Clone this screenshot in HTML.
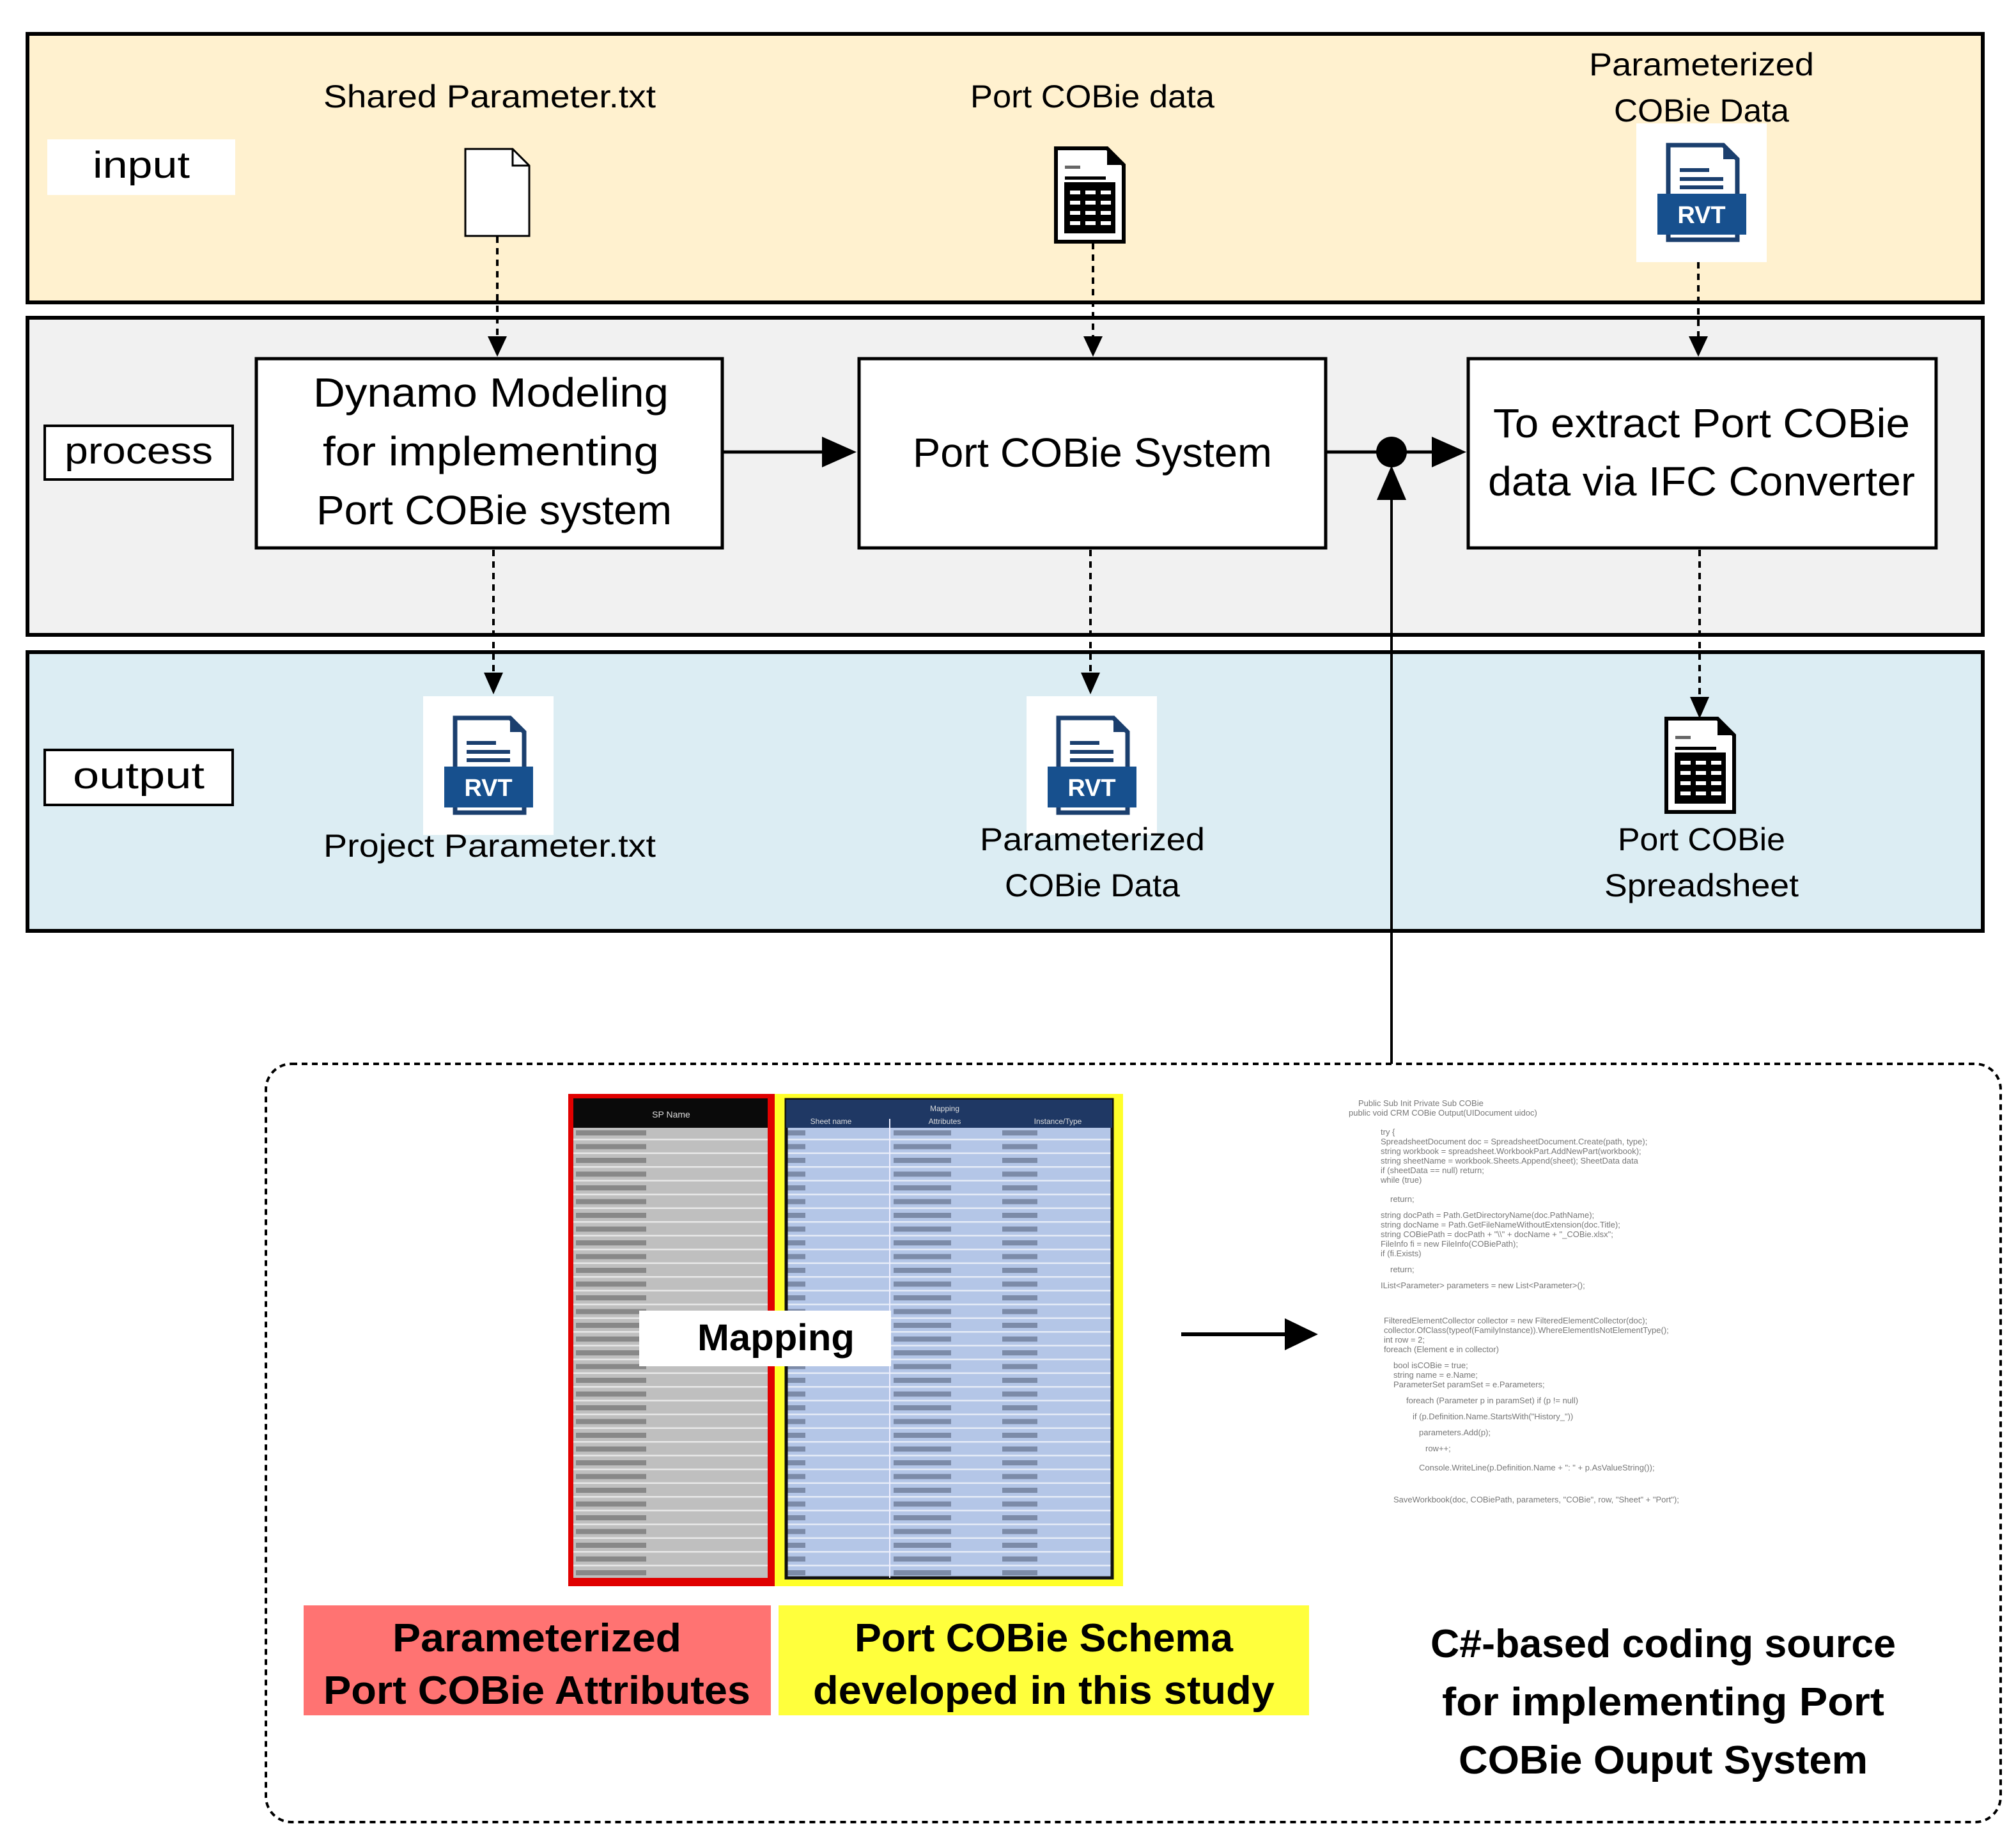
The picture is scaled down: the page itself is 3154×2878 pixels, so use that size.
<!DOCTYPE html>
<html><head><meta charset="utf-8"><style>
html,body{margin:0;padding:0;background:#fff}
svg{display:block}
text{font-family:"Liberation Sans",sans-serif}
</style></head><body>
<svg width="3154" height="2878" viewBox="0 0 3154 2878" xmlns="http://www.w3.org/2000/svg">
<defs>
<marker id="ah" viewBox="0 0 10 10" refX="10" refY="5" markerWidth="10" markerHeight="10" markerUnits="userSpaceOnUse" orient="auto"><path d="M0,0L10,5L0,10z"/></marker>
<pattern id="gray" x="897" y="1762" width="300" height="21.5" patternUnits="userSpaceOnUse">
<rect width="300" height="21.5" fill="#bfbfbf"/><rect y="19" width="300" height="2.5" fill="#e8e8e8"/><rect x="4" y="6" width="110" height="8" fill="#5a5a5a" opacity=".55"/></pattern>
<pattern id="blue" x="1228" y="1762" width="520" height="21.5" patternUnits="userSpaceOnUse">
<rect width="520" height="21.5" fill="#b4c6e7"/><rect y="19" width="520" height="2.5" fill="#e6ecf7"/><rect x="4" y="6" width="28" height="8" fill="#44506a" opacity=".5"/><rect x="170" y="6" width="90" height="8" fill="#44506a" opacity=".5"/><rect x="340" y="6" width="55" height="8" fill="#44506a" opacity=".5"/></pattern>
<g id="rvt">
<rect x="0" y="0" width="204" height="217" fill="#fff"/>
<path d="M50,34h86l22,22v126h-108z" fill="#fff" stroke="#1b3f6e" stroke-width="7"/>
<path d="M136,34v22h22z" fill="#1b3f6e"/>
<rect x="68" y="70" width="46" height="6" fill="#1b3f6e"/><rect x="68" y="84" width="68" height="6" fill="#1b3f6e"/><rect x="68" y="97" width="68" height="6" fill="#1b3f6e"/>
<rect x="33" y="110" width="139" height="64" fill="#17508e"/>
<text x="102" y="156" font-size="38" font-weight="bold" fill="#fff" text-anchor="middle">RVT</text>
</g>
<g id="xls">
<path d="M0,0h80l26,26v120h-106z" fill="#fff" stroke="#000" stroke-width="6"/>
<path d="M80,0v26h26z" fill="#000"/>
<rect x="14" y="27" width="24" height="5" fill="#666"/><rect x="14" y="44" width="64" height="5" fill="#000"/>
<rect x="13" y="53" width="80" height="80" fill="#000"/>
<g fill="#fff"><rect x="22" y="66" width="16" height="6"/><rect x="46" y="66" width="16" height="6"/><rect x="70" y="66" width="16" height="6"/>
<rect x="22" y="82" width="16" height="6"/><rect x="46" y="82" width="16" height="6"/><rect x="70" y="82" width="16" height="6"/>
<rect x="22" y="98" width="16" height="6"/><rect x="46" y="98" width="16" height="6"/><rect x="70" y="98" width="16" height="6"/>
<rect x="22" y="114" width="16" height="6"/><rect x="46" y="114" width="16" height="6"/><rect x="70" y="114" width="16" height="6"/></g>
</g>
</defs>

<!-- bands -->
<rect x="43" y="53" width="3059" height="420" fill="#fff1cf" stroke="#000" stroke-width="6"/>
<rect x="43" y="497" width="3059" height="496" fill="#f1f1f1" stroke="#000" stroke-width="6"/>
<rect x="43" y="1020" width="3059" height="436" fill="#dcedf3" stroke="#000" stroke-width="6"/>

<!-- lane labels -->
<rect x="74" y="218" width="294" height="87" fill="#fff"/>
<text x="221" y="278" font-size="58" text-anchor="middle" textLength="152" lengthAdjust="spacingAndGlyphs">input</text>
<rect x="70" y="666" width="294" height="84" fill="#fff" stroke="#000" stroke-width="4"/>
<text x="217" y="725" font-size="58" text-anchor="middle" textLength="232" lengthAdjust="spacingAndGlyphs">process</text>
<rect x="70" y="1173" width="294" height="86" fill="#fff" stroke="#000" stroke-width="4"/>
<text x="217" y="1233" font-size="58" text-anchor="middle" textLength="206" lengthAdjust="spacingAndGlyphs">output</text>

<!-- input labels -->
<text x="766" y="168" font-size="50" text-anchor="middle" textLength="520" lengthAdjust="spacingAndGlyphs">Shared Parameter.txt</text>
<text x="1709" y="168" font-size="50" text-anchor="middle" textLength="382" lengthAdjust="spacingAndGlyphs">Port COBie data</text>
<text x="2662" y="118" font-size="50" text-anchor="middle" textLength="352" lengthAdjust="spacingAndGlyphs">Parameterized</text>
<text x="2662" y="190" font-size="50" text-anchor="middle" textLength="274" lengthAdjust="spacingAndGlyphs">COBie Data</text>

<!-- input icons -->
<path d="M728,233h74l26,26v110h-100z" fill="#fff" stroke="#000" stroke-width="3"/>
<path d="M802,233v26h26" fill="none" stroke="#000" stroke-width="3"/>
<use href="#xls" x="1652" y="232"/>
<use href="#rvt" x="2560" y="193"/>

<!-- process boxes -->
<rect x="401" y="561" width="729" height="296" fill="#fff" stroke="#000" stroke-width="5"/>
<text x="768" y="636" font-size="64" text-anchor="middle" textLength="556" lengthAdjust="spacingAndGlyphs">Dynamo Modeling</text>
<text x="768" y="728" font-size="64" text-anchor="middle" textLength="526" lengthAdjust="spacingAndGlyphs">for implementing</text>
<text x="773" y="820" font-size="64" text-anchor="middle" textLength="556" lengthAdjust="spacingAndGlyphs">Port COBie system</text>
<rect x="1344" y="561" width="730" height="296" fill="#fff" stroke="#000" stroke-width="5"/>
<text x="1709" y="730" font-size="64" text-anchor="middle" textLength="562" lengthAdjust="spacingAndGlyphs">Port COBie System</text>
<rect x="2297" y="561" width="732" height="296" fill="#fff" stroke="#000" stroke-width="5"/>
<text x="2662" y="684" font-size="64" text-anchor="middle" textLength="652" lengthAdjust="spacingAndGlyphs">To extract Port COBie</text>
<text x="2662" y="775" font-size="64" text-anchor="middle" textLength="668" lengthAdjust="spacingAndGlyphs">data via IFC Converter</text>

<!-- solid connectors -->
<line x1="1130" y1="707" x2="1290" y2="707" stroke="#000" stroke-width="5"/>
<path d="M1286,683L1340,707L1286,731z"/>
<line x1="2074" y1="707" x2="2240" y2="707" stroke="#000" stroke-width="5"/>
<circle cx="2177" cy="707" r="24"/>
<path d="M2240,683L2294,707L2240,731z"/>
<line x1="2177" y1="760" x2="2177" y2="1664" stroke="#000" stroke-width="4"/>
<path d="M2154,782L2177,728L2200,782z"/>

<!-- dashed connectors -->
<g stroke="#000" stroke-width="4" stroke-dasharray="10,8" fill="none">
<line x1="778" y1="370" x2="778" y2="530"/>
<line x1="1710" y1="380" x2="1710" y2="530"/>
<line x1="2657" y1="410" x2="2657" y2="530"/>
<line x1="772" y1="860" x2="772" y2="1055"/>
<line x1="1706" y1="860" x2="1706" y2="1055"/>
<line x1="2659" y1="860" x2="2659" y2="1092"/>
</g>
<g>
<path d="M763,526L793,526L778,558z"/>
<path d="M1695,526L1725,526L1710,558z"/>
<path d="M2642,526L2672,526L2657,558z"/>
<path d="M757,1052L787,1052L772,1086z"/>
<path d="M1691,1052L1721,1052L1706,1086z"/>
<path d="M2644,1090L2674,1090L2659,1124z"/>
</g>

<!-- output icons & labels -->
<use href="#rvt" x="662" y="1089"/>
<use href="#rvt" x="1606" y="1089"/>
<use href="#xls" x="2607" y="1124"/>
<text x="766" y="1340" font-size="50" text-anchor="middle" textLength="520" lengthAdjust="spacingAndGlyphs">Project Parameter.txt</text>
<text x="1709" y="1330" font-size="50" text-anchor="middle" textLength="352" lengthAdjust="spacingAndGlyphs">Parameterized</text>
<text x="1709" y="1402" font-size="50" text-anchor="middle" textLength="274" lengthAdjust="spacingAndGlyphs">COBie Data</text>
<text x="2662" y="1330" font-size="50" text-anchor="middle" textLength="262" lengthAdjust="spacingAndGlyphs">Port COBie</text>
<text x="2662" y="1402" font-size="50" text-anchor="middle" textLength="304" lengthAdjust="spacingAndGlyphs">Spreadsheet</text>

<!-- dashed container -->
<rect x="416" y="1664" width="2714" height="1186" rx="40" fill="none" stroke="#000" stroke-width="4" stroke-dasharray="9,7"/>

<!-- tables -->
<rect x="889" y="1711" width="323" height="770" fill="#e00000"/>
<rect x="1212" y="1711" width="545" height="770" fill="#ffff2a"/>
<rect x="897" y="1718" width="304" height="750" fill="url(#gray)"/>
<rect x="897" y="1718" width="304" height="46" fill="#0a0a0a"/>
<text x="1050" y="1748" font-size="14" fill="#ddd" text-anchor="middle">SP Name</text>
<rect x="1230" y="1720" width="510" height="748" fill="url(#blue)" stroke="#111" stroke-width="5"/>
<rect x="1230" y="1720" width="510" height="44" fill="#1f3864"/>
<text x="1478" y="1738" font-size="12" fill="#ddd" text-anchor="middle">Mapping</text>
<text x="1300" y="1758" font-size="12" fill="#ddd" text-anchor="middle">Sheet name</text>
<text x="1478" y="1758" font-size="12" fill="#ddd" text-anchor="middle">Attributes</text>
<text x="1655" y="1758" font-size="12" fill="#ddd" text-anchor="middle">Instance/Type</text>
<line x1="1392" y1="1750" x2="1392" y2="2468" stroke="#eef" stroke-width="2"/>
<rect x="1000" y="2050" width="394" height="87" fill="#fff"/>
<text x="1214" y="2112" font-size="58" font-weight="bold" text-anchor="middle" textLength="246" lengthAdjust="spacingAndGlyphs">Mapping</text>

<!-- arrow to code -->
<line x1="1848" y1="2087" x2="2020" y2="2087" stroke="#000" stroke-width="6"/>
<path d="M2010,2062L2062,2087L2010,2112z"/>

<!-- code image -->
<rect x="2117" y="1717" width="923" height="727" fill="#fff"/>
<g font-size="13" fill="#777" font-family="Liberation Mono,monospace">
<text x="2125" y="1730">Public Sub Init  Private Sub  COBie</text>
<text x="2110" y="1745">public void CRM COBie Output(UIDocument uidoc)</text>
<text x="2160" y="1775">try {</text>
<text x="2160" y="1790">SpreadsheetDocument doc = SpreadsheetDocument.Create(path, type);</text>
<text x="2160" y="1805">string workbook = spreadsheet.WorkbookPart.AddNewPart(workbook);</text>
<text x="2160" y="1820">string sheetName = workbook.Sheets.Append(sheet); SheetData data</text>
<text x="2160" y="1835">if (sheetData == null) return;</text>
<text x="2160" y="1850">while (true)</text>
<text x="2175" y="1880">return;</text>
<text x="2160" y="1905">string docPath = Path.GetDirectoryName(doc.PathName);</text>
<text x="2160" y="1920">string docName = Path.GetFileNameWithoutExtension(doc.Title);</text>
<text x="2160" y="1935">string COBiePath = docPath + "\\" + docName + "_COBie.xlsx";</text>
<text x="2160" y="1950">FileInfo fi = new FileInfo(COBiePath);</text>
<text x="2160" y="1965">if (fi.Exists)</text>
<text x="2175" y="1990">return;</text>
<text x="2160" y="2015">IList&lt;Parameter&gt; parameters = new List&lt;Parameter&gt;();</text>
<text x="2165" y="2070">FilteredElementCollector collector = new FilteredElementCollector(doc);</text>
<text x="2165" y="2085">collector.OfClass(typeof(FamilyInstance)).WhereElementIsNotElementType();</text>
<text x="2165" y="2100">int row = 2;</text>
<text x="2165" y="2115">foreach (Element e in collector)</text>
<text x="2180" y="2140">bool isCOBie = true;</text>
<text x="2180" y="2155">string name = e.Name;</text>
<text x="2180" y="2170">ParameterSet paramSet = e.Parameters;</text>
<text x="2200" y="2195">foreach (Parameter p in paramSet) if (p != null)</text>
<text x="2210" y="2220">if (p.Definition.Name.StartsWith("History_"))</text>
<text x="2220" y="2245">parameters.Add(p);</text>
<text x="2230" y="2270">row++;</text>
<text x="2220" y="2300">Console.WriteLine(p.Definition.Name + ": " + p.AsValueString());</text>
<text x="2180" y="2350">SaveWorkbook(doc, COBiePath, parameters, "COBie", row, "Sheet" + "Port");</text>
</g>

<!-- bottom labels -->
<rect x="475" y="2511" width="731" height="172" fill="#ff7372"/>
<text x="840" y="2583" font-size="62" font-weight="bold" text-anchor="middle" textLength="452" lengthAdjust="spacingAndGlyphs">Parameterized</text>
<text x="840" y="2665" font-size="62" font-weight="bold" text-anchor="middle" textLength="668" lengthAdjust="spacingAndGlyphs">Port COBie Attributes</text>
<rect x="1218" y="2511" width="830" height="172" fill="#ffff3c"/>
<text x="1633" y="2583" font-size="62" font-weight="bold" text-anchor="middle" textLength="592" lengthAdjust="spacingAndGlyphs">Port COBie Schema</text>
<text x="1633" y="2665" font-size="62" font-weight="bold" text-anchor="middle" textLength="722" lengthAdjust="spacingAndGlyphs">developed in this study</text>
<text x="2602" y="2592" font-size="62" font-weight="bold" text-anchor="middle" textLength="728" lengthAdjust="spacingAndGlyphs">C#-based coding source</text>
<text x="2602" y="2683" font-size="62" font-weight="bold" text-anchor="middle" textLength="692" lengthAdjust="spacingAndGlyphs">for implementing Port</text>
<text x="2602" y="2774" font-size="62" font-weight="bold" text-anchor="middle" textLength="640" lengthAdjust="spacingAndGlyphs">COBie Ouput System</text>
</svg>
</body></html>
